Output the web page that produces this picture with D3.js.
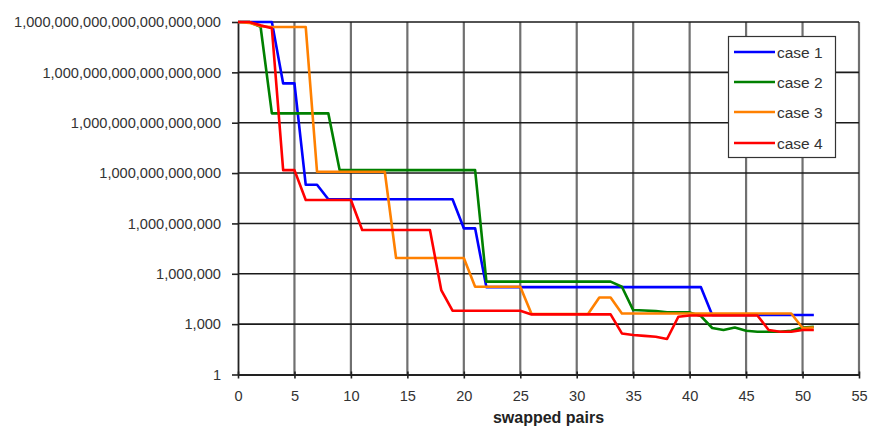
<!DOCTYPE html>
<html>
<head>
<meta charset="utf-8">
<script src="https://cdn.jsdelivr.net/npm/d3@7"></script>
<style>
  html, body { margin: 0; padding: 0; background: #fff; }
  svg { display: block; font-family: "Liberation Sans", Arial, sans-serif; }
</style>
</head>
<body>
<svg id="chart" width="870" height="427"></svg>
<script>
// ---------- data ----------
const swappedPairs = d3.range(0, 52); // x values 0..51
const seriesNames = ["case 1", "case 2", "case 3", "case 4"];
const seriesColors = ["#0000FF", "#008000", "#FF8000", "#FF0000"];

const case1 = [1e21, 1e21, 1e21, 1e21, 2.2e17, 2.2e17, 2e11, 2e11,
  2.75e10, 2.75e10, 2.75e10, 2.75e10, 2.75e10, 2.75e10, 2.75e10, 2.75e10, 2.75e10, 2.75e10, 2.75e10, 2.75e10,
  5.1e8, 5.1e8,
  1.6e5, 1.6e5, 1.6e5, 1.6e5, 1.6e5, 1.6e5, 1.6e5, 1.6e5, 1.6e5, 1.6e5,
  1.6e5, 1.6e5, 1.6e5, 1.6e5, 1.6e5, 1.6e5, 1.6e5, 1.6e5, 1.6e5, 1.6e5,
  3500, 3500, 3500, 3500, 3500, 3500, 3500, 3500, 3500, 3500];

const case2 = [1e21, 1e21, 5.2e20,
  3.6e15, 3.6e15, 3.6e15, 3.6e15, 3.6e15, 3.6e15,
  1.5e12, 1.5e12, 1.5e12, 1.5e12, 1.5e12, 1.5e12, 1.5e12, 1.5e12, 1.5e12, 1.5e12, 1.5e12, 1.5e12, 1.5e12,
  3.4e5, 3.4e5, 3.4e5, 3.4e5, 3.4e5, 3.4e5, 3.4e5, 3.4e5, 3.4e5, 3.4e5, 3.4e5, 3.4e5,
  1.7e5, 6900, 6500, 6000, 5000, 5000, 5000, 3000,
  590, 450, 630, 400, 355, 355, 355, 400, 630, 700];

const case3 = [1e21, 8.9e20, 5.6e20,
  5e20, 5e20, 5e20, 5e20,
  1.2e12, 1.2e12, 1.2e12, 1.2e12, 1.2e12, 1.2e12, 1.2e12,
  8.7e6, 8.7e6, 8.7e6, 8.7e6, 8.7e6, 8.7e6, 8.7e6,
  1.7e5, 1.7e5, 1.7e5, 1.7e5, 1.7e5,
  4000, 4000, 4000, 4000, 4000, 4000,
  3.9e4, 3.9e4,
  4300, 4300, 4300, 4300, 4300, 4300, 4300, 4300, 4300, 4300, 4300, 4300, 4300, 4300, 4300, 4300,
  590, 630];

const case4 = [1e21, 1e21, 6.3e20, 4.2e20,
  1.5e12, 1.5e12,
  2.5e10, 2.5e10, 2.5e10, 2.5e10, 2.5e10,
  4.1e8, 4.1e8, 4.1e8, 4.1e8, 4.1e8, 4.1e8, 4.1e8,
  1.07e5,
  6300, 6300, 6300, 6300, 6300, 6300, 6300,
  3800, 3800, 3800, 3800, 3800, 3800, 3800, 3800,
  280, 224, 200, 178, 130,
  2750,
  3300, 3300, 3300, 3300, 3300, 3300, 3300,
  450, 355, 355, 450, 450];

const seriesValues = [case1, case2, case3, case4];

const xTickValues = [0, 5, 10, 15, 20, 25, 30, 35, 40, 45, 50, 55];
const yTickValues = [1, 1e3, 1e6, 1e9, 1e12, 1e15, 1e18, 1e21];
const yTickLabels = ["1", "1,000", "1,000,000", "1,000,000,000", "1,000,000,000,000",
  "1,000,000,000,000,000", "1,000,000,000,000,000,000", "1,000,000,000,000,000,000,000"];
const xAxisTitle = "swapped pairs";

// ---------- layout ----------
const svg = d3.select("#chart");
const plot = { left: 238, right: 859, top: 22, bottom: 374.5 };

const x = d3.scaleLinear().domain([0, 55]).range([plot.left, plot.right]);
const y = d3.scaleLog().domain([1, 1e21]).range([plot.bottom, plot.top]);

// vertical gridlines
svg.append("g").selectAll("line")
  .data(xTickValues.filter(v => v > 0))
  .join("line")
  .attr("x1", d => x(d)).attr("x2", d => x(d))
  .attr("y1", plot.top).attr("y2", plot.bottom)
  .attr("stroke", "#707070").attr("stroke-width", 2.2);

// horizontal gridlines
svg.append("g").selectAll("line")
  .data(yTickValues.filter(v => v > 1))
  .join("line")
  .attr("x1", plot.left).attr("x2", plot.right)
  .attr("y1", d => y(d)).attr("y2", d => y(d))
  .attr("stroke", "#1a1a1a").attr("stroke-width", 1.6);

// axes
const yAxis = d3.axisLeft(y)
  .tickValues(yTickValues)
  .tickFormat((d, i) => yTickLabels[i])
  .tickSizeInner(6).tickSizeOuter(0).tickPadding(11);
const gy = svg.append("g").attr("transform", `translate(${plot.left},0)`).call(yAxis);
gy.select(".domain").attr("stroke", "#222").attr("stroke-width", 1.8);
gy.selectAll(".tick line").attr("stroke", "#222").attr("stroke-width", 1.6);
gy.selectAll(".tick text").attr("fill", "#333").style("font-size", "14.6px");

const xAxis = d3.axisBottom(x)
  .tickValues(xTickValues)
  .tickFormat(d3.format("d"))
  .tickSizeInner(4).tickSizeOuter(0).tickPadding(12);
const gx = svg.append("g").attr("transform", `translate(0,${plot.bottom})`).call(xAxis);
gx.select(".domain").attr("stroke", "#222").attr("stroke-width", 1.8);
gx.selectAll(".tick line").attr("stroke", "#222").attr("stroke-width", 1.6).attr("y1", -3);
gx.selectAll(".tick text").attr("fill", "#333").style("font-size", "14.6px");

// x axis title
svg.append("text")
  .attr("x", (plot.left + plot.right) / 2)
  .attr("y", 423)
  .attr("text-anchor", "middle")
  .attr("font-weight", "bold")
  .attr("font-size", "16px")
  .attr("fill", "#222")
  .text(xAxisTitle);

// lines
const line = d3.line()
  .x((d, i) => x(swappedPairs[i]))
  .y(d => y(d));

svg.append("g").selectAll("path")
  .data(seriesValues)
  .join("path")
  .attr("d", d => line(d))
  .attr("fill", "none")
  .attr("stroke", (d, i) => seriesColors[i])
  .attr("stroke-width", 2.6)
  .attr("stroke-linejoin", "round");

// legend
const legend = svg.append("g");
legend.append("rect")
  .attr("x", 728.5).attr("y", 36.5).attr("width", 107).attr("height", 121)
  .attr("fill", "#fff").attr("stroke", "#333").attr("stroke-width", 1.2);
const rowY = [52, 82, 112, 143];
seriesNames.forEach((name, i) => {
  legend.append("line")
    .attr("x1", 734).attr("x2", 775)
    .attr("y1", rowY[i]).attr("y2", rowY[i])
    .attr("stroke", seriesColors[i]).attr("stroke-width", 2.6);
  legend.append("text")
    .attr("x", 777).attr("y", rowY[i] + 5.5)
    .attr("font-size", "15.5px").attr("fill", "#333")
    .text(name);
});
</script>
</body>
</html>
